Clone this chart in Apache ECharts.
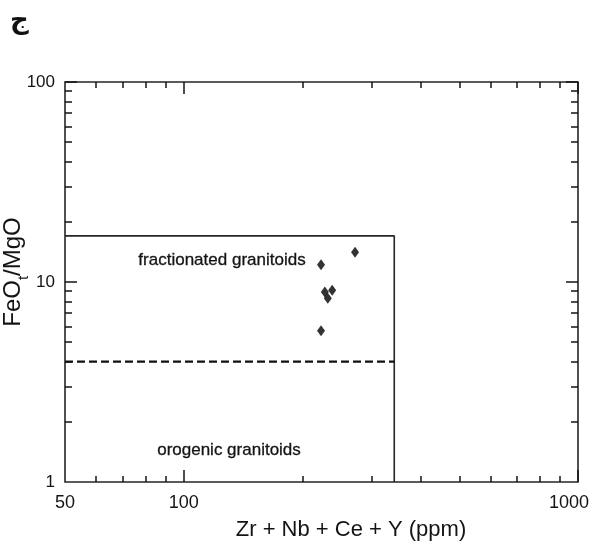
<!DOCTYPE html>
<html>
<head>
<meta charset="utf-8">
<script src="https://cdn.jsdelivr.net/npm/echarts@6/dist/echarts.min.js"></script>
<style>
  html, body { margin: 0; padding: 0; background: #fff; }
  #chart { width: 594px; height: 551px; }
</style>
</head>
<body>
<div id="chart"></div>
<script>
// Sample compositions: Zr+Nb+Ce+Y (ppm) against FeOt/MgO
const sumZrNbCeY = [223, 272, 228, 238, 232, 223];
const feoMgo     = [12.2, 14.1, 8.9, 9.1, 8.3, 5.7];

// Field boundaries
const fieldBox      = [[50, 17], [342, 17], [342, 1]];
const fieldDivider  = [[50, 4], [342, 4]];

// Axis ticks and labels
const xMajorTicks = [100, 1000];
const xMinorTicks = [60, 70, 80, 90, 200, 300, 400, 500, 600, 700, 800, 900];
const xLabels     = [50, 100, 1000];
const yMajorTicks = [10, 100];
const yMinorTicks = [2, 3, 4, 5, 6, 7, 8, 9, 20, 30, 40, 50, 60, 70, 80, 90];
const yLabels     = [1, 10, 100];

const X_MIN = 50, X_MAX = 1000, Y_MIN = 1, Y_MAX = 100;
const lg = v => Math.log10(v);
const FONT = 'Liberation Sans, Arial, sans-serif';
const INK = '#141414';

// log axis carrying the data, drawing nothing itself
function dataAxis(min, max) {
  return {
    type: 'log', logBase: 10, min: min, max: max,
    axisLine: { show: false, onZero: false }, axisTick: { show: false },
    axisLabel: { show: false }, splitLine: { show: false }, minorTick: { show: false }
  };
}

// value axis in log10 space that only draws inward ticks
function tickAxis(pos, min, max, ticks, len) {
  return {
    type: 'value', position: pos, min: lg(min), max: lg(max),
    axisLine: { show: false, onZero: false },
    splitLine: { show: false },
    axisTick: { show: true, inside: true, length: len, customValues: ticks.map(lg),
                lineStyle: { color: INK, width: 1.5 } },
    axisLabel: { show: false }
  };
}

// value axis in log10 space that only draws labels
function labelAxis(pos, min, max, labels, opts) {
  return {
    type: 'value', position: pos, min: lg(min), max: lg(max),
    axisLine: { show: false, onZero: false },
    splitLine: { show: false },
    axisTick: { show: false },
    axisLabel: Object.assign({ show: true, customValues: labels.map(lg) }, opts)
  };
}

const chart = echarts.init(document.getElementById('chart'), null, { renderer: 'canvas' });

const labelText = (txt, x, y, size) => ({
  type: 'text', x: x, y: y,
  style: { text: txt, font: size + 'px ' + FONT, fill: INK, stroke: INK, lineWidth: 0.3,
           align: 'center', verticalAlign: 'middle' }
});

chart.setOption({
  animation: false,
  backgroundColor: '#fff',
  grid: { left: 65, right: 16, top: 82, bottom: 69, show: true,
          borderColor: '#262626', borderWidth: 1.6, backgroundColor: 'transparent' },
  xAxis: [
    dataAxis(X_MIN, X_MAX),
    labelAxis('bottom', X_MIN, X_MAX, xLabels, {
      margin: 12, color: INK, fontSize: 18, fontFamily: FONT,
      formatter: v => {
        const n = Math.round(Math.pow(10, v));
        return n === 1000 ? '{r|' + n + '}' : String(n);
      },
      rich: { r: { fontSize: 18, fontFamily: FONT, color: INK, padding: [0, 18, 0, 0] } }
    }),
    tickAxis('bottom', X_MIN, X_MAX, xMajorTicks, 12),
    tickAxis('bottom', X_MIN, X_MAX, xMinorTicks, 6),
    tickAxis('top', X_MIN, X_MAX, xMajorTicks, 12),
    tickAxis('top', X_MIN, X_MAX, xMinorTicks, 6)
  ],
  yAxis: [
    dataAxis(Y_MIN, Y_MAX),
    labelAxis('left', Y_MIN, Y_MAX, yLabels, {
      margin: 10, color: INK, fontSize: 17, fontFamily: FONT,
      formatter: v => String(Math.round(Math.pow(10, v)))
    }),
    tickAxis('left', Y_MIN, Y_MAX, yMajorTicks, 12),
    tickAxis('left', Y_MIN, Y_MAX, yMinorTicks, 7),
    tickAxis('right', Y_MIN, Y_MAX, yMajorTicks, 12),
    tickAxis('right', Y_MIN, Y_MAX, yMinorTicks, 7)
  ],
  series: [
    {
      type: 'line', xAxisIndex: 0, yAxisIndex: 0, data: fieldBox,
      symbol: 'none', lineStyle: { color: '#262626', width: 1.6 }, silent: true
    },
    {
      type: 'line', xAxisIndex: 0, yAxisIndex: 0, data: fieldDivider,
      symbol: 'none', lineStyle: { color: '#111', width: 2.2, type: [8, 4] }, silent: true
    },
    {
      type: 'scatter', xAxisIndex: 0, yAxisIndex: 0,
      data: sumZrNbCeY.map((x, i) => [x, feoMgo[i]]),
      symbol: 'diamond', symbolSize: [8, 11],
      itemStyle: { color: '#000' }
    }
  ],
  graphic: [
    { type: 'text', left: 10, top: 8,
      style: { text: 'ج', font: 'bold 26px "DejaVu Sans", sans-serif', fill: '#111' } },
    labelText('fractionated granitoids', 222, 260, 17),
    labelText('orogenic granitoids', 229, 450, 17),
    { type: 'text', x: 351, y: 530,
      style: { text: 'Zr + Nb + Ce + Y (ppm)', font: '22px ' + FONT, fill: INK,
               align: 'center', verticalAlign: 'middle' } },
    { type: 'text', x: 13, y: 272, rotation: Math.PI / 2,
      style: { text: '{b|FeO}{s|t}{b|/MgO}', align: 'center', verticalAlign: 'middle',
               rich: {
                 b: { font: '24px ' + FONT, fill: INK, verticalAlign: 'bottom' },
                 s: { font: '15px ' + FONT, fill: INK, verticalAlign: 'bottom', padding: [0, 0, -6, 0] }
               } } }
  ]
});
</script>
</body>
</html>
